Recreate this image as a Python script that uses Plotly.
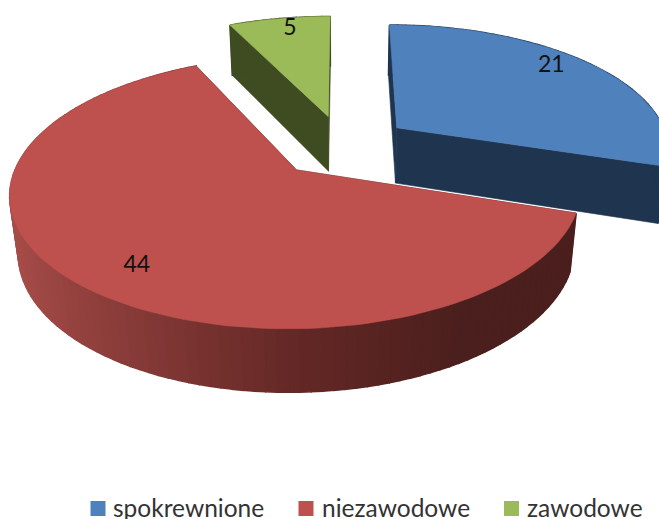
import math
import plotly.graph_objects as go

categories = ["spokrewnione", "niezawodowe", "zawodowe"]
values = [21, 44, 5]
top_colors = ["#4F81BD", "#BE504D", "#9BBB59"]
side_colors = ["#1F344F", "#4B1F1D", "#3F4C22"]

# projection of the exploded pie (unit disc -> page pixels)
EXPLODE = 0.25
X0, Y0, A, B, K = 342.8, 145.7, 273.0, 124.7, 0.1606
DEPTH, M_Y, M_X = 57.5, 0.025, 0.025
LABEL_R = [0.86, 0.81, 0.875]
LABEL_SHIFT = [-5.0, -4.0, 1.5]
# legend layout, in page pixels
KEY_X = [98, 306, 511.5]
KEY_TEXT_X = [113, 322, 527]
KEY_Y, KEY_TEXT_Y = 508.5, 507


def top(u, v):
    w = 1 + K * v
    return X0 + A * u / w, Y0 - B * v / w


def bottom(u, v):
    w = 1 + K * v
    return X0 + A * u / (w + M_X), Y0 + (DEPTH - B * v) / (w + M_Y)


def polar(t, r=1.0):
    a = math.radians(t)
    return r * math.sin(a), r * math.cos(a)


def mix(c1, c2, f):
    p = [int(c1[i:i + 2], 16) for i in (1, 3, 5)]
    q = [int(c2[i:i + 2], 16) for i in (1, 3, 5)]
    return "rgb(%d,%d,%d)" % tuple(round(a + (b - a) * f) for a, b in zip(p, q))


def poly(fig, pts, color, lw=0.6):
    xs = [p[0] for p in pts] + [pts[0][0]]
    ys = [p[1] for p in pts] + [pts[0][1]]
    fig.add_trace(go.Scatter(x=xs, y=ys, mode="lines", fill="toself", fillcolor=color,
                             line=dict(color=color, width=lw), hoverinfo="skip", showlegend=False))


def wall_color(i, u):
    if i != 1:
        return side_colors[i]
    if u < -0.15:
        return mix("#A64C48", "#642826", max(0.0, (u + 1.1) / 0.95))
    return mix("#642826", "#4B1F1D", min(1.0, (u + 0.15) / 0.5))


fig = go.Figure()
total = sum(values)
spans = []
s = 0.0
for v in values:
    e = s + v / total * 360
    spans.append((s, e))
    s = e

labels = []
for i in (2, 0, 1):  # back to front
    s, e = spans[i]
    mid = (s + e) / 2
    ox, oy = polar(mid, EXPLODE)
    n = max(4, int((e - s) / 2))
    angles = [s + (e - s) * j / n for j in range(n + 1)]
    rim = [(ox + polar(t)[0], oy + polar(t)[1]) for t in angles]
    for t_u, t_v in (rim[0], rim[-1]):
        poly(fig, [top(ox, oy), top(t_u, t_v), bottom(t_u, t_v), bottom(ox, oy)], side_colors[i])
    for j in range(n):
        a, b = rim[j], rim[j + 1]
        poly(fig, [top(*a), top(*b), bottom(*b), bottom(*a)], wall_color(i, (a[0] + b[0]) / 2), lw=1.5)
    poly(fig, [top(ox, oy)] + [top(*p) for p in rim], top_colors[i])
    lu, lv = polar(mid + LABEL_SHIFT[i], LABEL_R[i])
    labels.append((top(ox + lu, oy + lv), values[i]))

fig.add_trace(go.Scatter(x=[p[0][0] for p in labels], y=[p[0][1] for p in labels],
                         text=[str(p[1]) for p in labels], mode="text",
                         textfont=dict(family="Lato", size=23, color="#111111"),
                         hoverinfo="skip", showlegend=False))

fig.add_trace(go.Scatter(x=KEY_X, y=[KEY_Y] * 3, mode="markers", hoverinfo="skip", showlegend=False,
                         marker=dict(symbol="square", size=15, color=top_colors)))
for name, tx in zip(categories, KEY_TEXT_X):
    fig.add_annotation(x=tx, y=KEY_TEXT_Y, text=name, showarrow=False, xanchor="left", yanchor="middle",
                       xref="x", yref="y", borderpad=0, borderwidth=0,
                       font=dict(family="Lato", size=24.5, color="#333333"))

fig.update_layout(
    width=659, height=519, margin=dict(l=0, r=0, t=0, b=0),
    paper_bgcolor="white", plot_bgcolor="white", showlegend=False,
    xaxis=dict(range=[0, 659], visible=False, fixedrange=True),
    yaxis=dict(range=[519, 0], visible=False, fixedrange=True),
)
fig.write_html("out.html", config={"displayModeBar": False},
               post_script="document.body.style.margin='0';")
